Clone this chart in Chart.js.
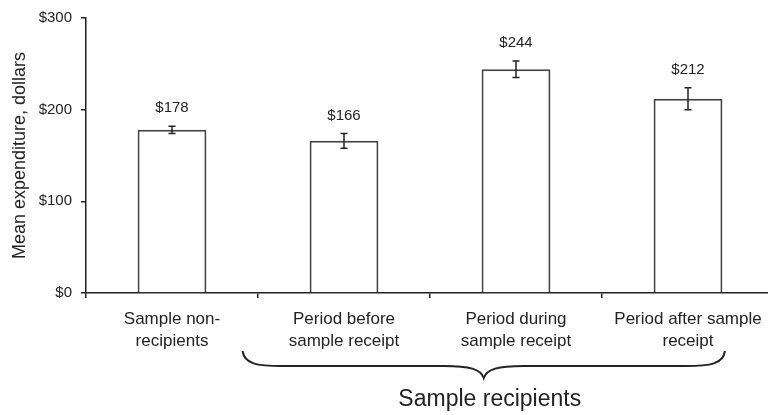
<!DOCTYPE html>
<html lang="en">
<head>
  <meta charset="UTF-8" />
  <title>Mean expenditure by sample group</title>
  <script src="https://cdn.jsdelivr.net/npm/chart.js"></script>
  <style>
    html, body { margin: 0; padding: 0; background: #fff; overflow: hidden; }
    canvas { display: block; }
  </style>
</head>
<body>
  <canvas id="expChart" width="780" height="415"></canvas>

  <script>
    const categories = [
      ['Sample non-', 'recipients'],
      ['Period before', 'sample receipt'],
      ['Period during', 'sample receipt'],
      ['Period after sample', 'receipt']
    ];
    const meanValues = [178, 166, 244, 212];
    const errorValues = [4, 8, 9, 12];
    const yTicks = [0, 100, 200, 300];
    const groupLabel = 'Sample recipients';

    const textColor = '#222';
    const fontFamily = 'Arial, "Liberation Sans", Helvetica, sans-serif';

    // error bars + value labels on top of bars
    const errorBarPlugin = {
      id: 'errorBars',
      afterDatasetsDraw(chart) {
        const ctx = chart.ctx;
        const meta = chart.getDatasetMeta(0);
        const y = chart.scales.y;
        ctx.save();
        ctx.strokeStyle = '#222';
        ctx.lineWidth = 1.5;
        meta.data.forEach((bar, i) => {
          const top = y.getPixelForValue(meanValues[i] + errorValues[i]);
          const bottom = y.getPixelForValue(meanValues[i] - errorValues[i]);
          ctx.beginPath();
          ctx.moveTo(bar.x, top);
          ctx.lineTo(bar.x, bottom);
          ctx.moveTo(bar.x - 3.5, top);
          ctx.lineTo(bar.x + 3.5, top);
          ctx.moveTo(bar.x - 3.5, bottom);
          ctx.lineTo(bar.x + 3.5, bottom);
          ctx.stroke();

          ctx.fillStyle = textColor;
          ctx.font = '15px ' + fontFamily;
          ctx.textAlign = 'center';
          ctx.textBaseline = 'middle';
          ctx.fillText('$' + meanValues[i], bar.x, top - 18);
        });
        ctx.restore();
      }
    };

    // curly brace under the three recipient categories
    const bracePlugin = {
      id: 'brace',
      afterDraw(chart) {
        const ctx = chart.ctx;
        const x = chart.scales.x;
        const step = x.getPixelForValue(1) - x.getPixelForValue(0);
        const x1 = x.getPixelForValue(1) - step * 0.59;
        const x2 = x.getPixelForValue(3) + step * 0.215;
        const mid = (x1 + x2) / 2;
        const yTop = 351, yMid = 366, yTip = 378;

        ctx.save();
        ctx.strokeStyle = '#222';
        ctx.lineWidth = 2;
        ctx.beginPath();
        ctx.moveTo(x1, yTop);
        ctx.bezierCurveTo(x1 + 2, yMid - 2, x1 + 14, yMid, x1 + 40, yMid);
        ctx.lineTo(mid - 40, yMid);
        ctx.bezierCurveTo(mid - 14, yMid, mid - 3, yMid + 3, mid, yTip);
        ctx.bezierCurveTo(mid + 3, yMid + 3, mid + 14, yMid, mid + 40, yMid);
        ctx.lineTo(x2 - 40, yMid);
        ctx.bezierCurveTo(x2 - 14, yMid, x2 - 2, yMid - 2, x2, yTop);
        ctx.stroke();

        ctx.fillStyle = textColor;
        ctx.font = '23px ' + fontFamily;
        ctx.textAlign = 'center';
        ctx.textBaseline = 'middle';
        ctx.fillText(groupLabel, mid + 6, 400);
        ctx.restore();
      }
    };

    const ctx = document.getElementById('expChart').getContext('2d');
    new Chart(ctx, {
      type: 'bar',
      data: {
        labels: categories,
        datasets: [{
          data: meanValues,
          backgroundColor: '#fff',
          borderColor: '#444',
          borderWidth: 2,
          categoryPercentage: 0.8,
          barPercentage: 0.5
        }]
      },
      options: {
        responsive: false,
        animation: false,
        layout: { padding: { top: 15, right: 6, bottom: 0, left: 0 } },
        plugins: {
          legend: { display: false },
          tooltip: { enabled: false }
        },
        scales: {
          x: {
            afterFit(scale) { scale.height = 122; },
            grid: {
              offset: true,
              drawOnChartArea: false,
              tickLength: 5,
              color: '#222',
              lineWidth: 1.5
            },
            border: { color: '#222', width: 1.5 },
            ticks: {
              color: textColor,
              padding: 10,
              maxRotation: 0,
              autoSkip: false,
              font: { family: fontFamily, size: 17, lineHeight: 1.3 }
            }
          },
          y: {
            min: 0,
            max: 300,
            afterFit(scale) { scale.width = 86; },
            afterBuildTicks(scale) { scale.ticks = yTicks.map(v => ({ value: v })); },
            grid: {
              drawOnChartArea: false,
              tickLength: 5,
              color: '#222',
              lineWidth: 1.5
            },
            border: { color: '#222', width: 1.5 },
            ticks: {
              color: textColor,
              padding: 9,
              font: { family: fontFamily, size: 15 },
              callback: v => '$' + v
            },
            title: {
              display: true,
              text: 'Mean expenditure, dollars',
              color: textColor,
              padding: { top: 9, bottom: 0 },
              font: { family: fontFamily, size: 18 }
            }
          }
        }
      },
      plugins: [errorBarPlugin, bracePlugin]
    });
  </script>
</body>
</html>
